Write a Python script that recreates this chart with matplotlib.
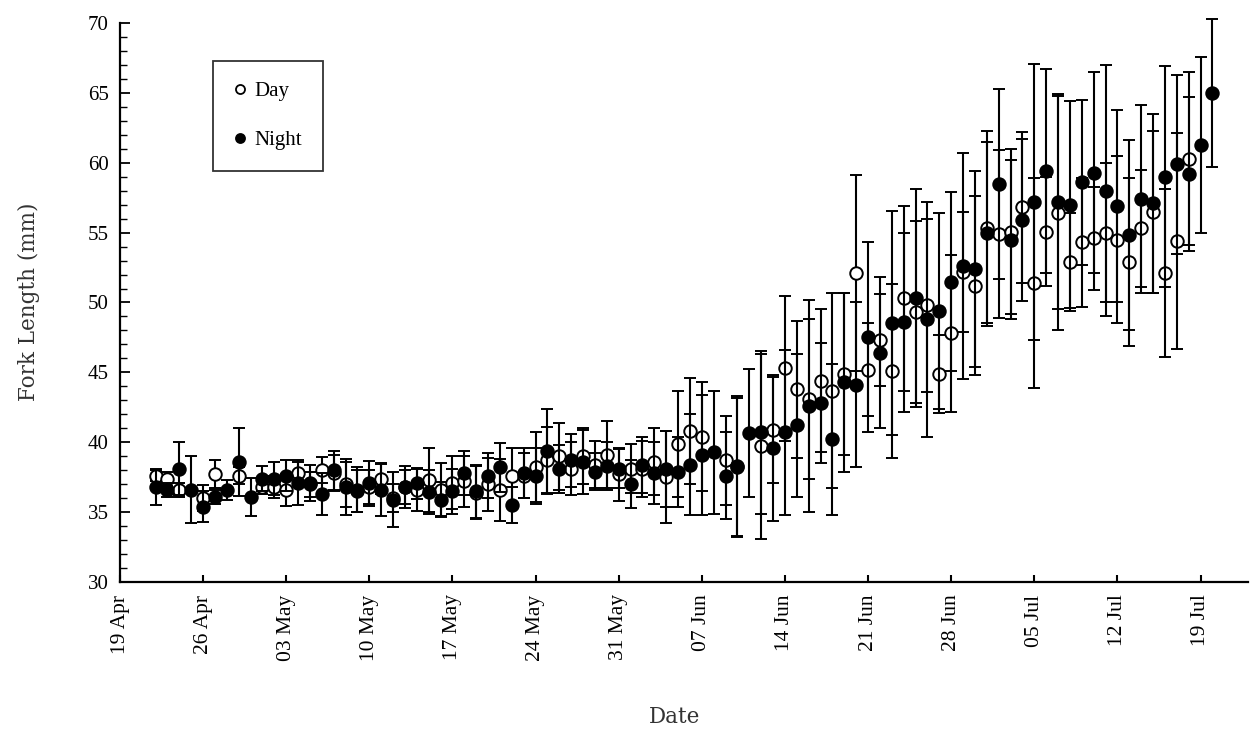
import numpy as np
import pandas as pd
import matplotlib
matplotlib.use('Agg')
import matplotlib.pyplot as plt
import matplotlib.dates as mdates
from matplotlib.lines import Line2D

nan = np.nan

# datas de amostragem (uma por dia, 22 Apr a 20 Jul)
datas = pd.date_range('2004-04-22', '2004-07-20', freq='D')

# media e desvio padrao - Dia
dia_media = [37.6, 37.4, 36.6, nan, 36.0, 37.7, nan, 37.6, nan, 36.8,
             36.8, 36.6, 37.8, 37.0, 38.0, 37.8, 37.0, 36.5, 36.8, 37.4,
             36.0, 36.8, 36.6, 37.3, 36.6, 37.1, 37.2, 36.4, 37.0, 36.6,
             37.6, 37.6, 38.2, 38.7, 39.0, 38.1, 39.0, 38.4, 39.1, 37.7,
             38.1, 38.1, 38.6, 37.5, 39.9, 40.8, 40.4, nan, 38.7, 38.2,
             nan, 39.7, 40.9, 45.3, 43.8, 43.1, 44.4, 43.7, 44.9, 52.1,
             45.2, 47.3, 45.1, 50.3, 49.3, 49.8, 44.9, 47.8, 52.2, 51.2,
             55.3, 54.9, 55.05, 56.8, 51.4, 55.05, 56.4, 52.9, 54.3, 54.6,
             55.0, 54.5, 52.9, 55.3, 56.5, 52.1, 54.4, 60.3, nan, nan]
dia_dp = [0.4, 0.5, 0.5, nan, 0.95, 1.0, nan, 0.6, nan, 0.5,
          0.8, 1.15, 0.8, 0.9, 0.95, 1.3, 1.6, 1.5, 1.2, 1.1,
          1.0, 1.2, 1.5, 2.3, 1.9, 1.9, 1.8, 1.9, 1.9, 2.2,
          2.0, 1.6, 2.5, 2.4, 2.4, 1.9, 2.0, 1.7, 2.4, 1.9,
          1.75, 2.0, 2.4, 3.3, 3.8, 3.8, 3.9, nan, 3.2, 5.0,
          nan, 6.6, 3.8, 5.2, 4.9, 5.7, 5.1, 7.0, 5.8, 7.0,
          3.3, 3.3, 6.2, 6.6, 6.5, 6.2, 2.8, 5.6, 4.3, 6.4,
          7.0, 6.0, 5.9, 5.4, 7.5, 3.9, 8.4, 3.5, 4.6, 3.7,
          5.0, 6.0, 6.0, 4.2, 5.8, 6.0, 7.7, 6.2, nan, nan]

# media e desvio padrao - Noite
noite_media = [36.8, 36.6, 38.1, 36.6, 35.4, 36.1, 36.6, 38.6, 36.1, 37.4,
               37.4, 37.6, 37.1, 37.1, 36.3, 38.0, 36.8, 36.6, 37.05, 36.6,
               35.9, 36.8, 37.05, 36.45, 35.9, 36.5, 37.8, 36.5, 37.6, 38.2,
               35.5, 37.8, 37.6, 39.4, 38.1, 38.7, 38.6, 37.9, 38.3, 38.1,
               37.0, 38.35, 37.8, 38.1, 37.9, 38.4, 39.1, 39.3, 37.6, 38.3,
               40.65, 40.7, 39.6, 40.7, 41.2, 42.6, 42.8, 40.2, 44.3, 44.1,
               47.5, 46.4, 48.55, 48.6, 50.3, 48.8, 49.4, 51.5, 52.6, 52.4,
               55.0, 58.5, 54.5, 55.9, 57.2, 59.4, 57.2, 57.0, 58.6, 59.3,
               58.0, 56.9, 54.8, 57.4, 57.1, 59.0, 59.9, 59.2, 61.3, 65.0]
noite_dp = [1.3, 0.5, 1.9, 2.4, 1.1, 0.5, 0.7, 2.45, 1.35, 0.9,
            1.2, 1.1, 1.6, 1.3, 1.5, 1.4, 2.0, 1.6, 1.6, 1.85,
            1.95, 1.5, 1.1, 1.6, 1.25, 1.6, 1.6, 1.9, 1.6, 1.75,
            1.3, 1.8, 2.0, 3.0, 1.7, 1.9, 2.3, 1.3, 1.7, 1.4,
            1.7, 2.0, 2.2, 2.7, 2.5, 3.6, 4.3, 4.4, 3.1, 5.0,
            4.6, 5.8, 5.2, 5.9, 5.1, 7.6, 4.3, 5.4, 6.4, 5.9,
            6.8, 5.4, 8.0, 6.4, 7.8, 8.4, 7.0, 6.4, 8.1, 7.0,
            6.5, 6.8, 5.7, 5.8, 9.9, 7.3, 7.7, 7.4, 5.9, 7.2,
            9.0, 6.9, 6.8, 6.7, 6.4, 7.9, 6.4, 5.5, 6.3, 5.3]

ticks = pd.date_range('2004-04-19', periods=14, freq='7D')

plt.rcParams['font.family'] = 'Liberation Serif'

fig = plt.figure(figsize=(12.57, 7.41), dpi=100)
ax = fig.add_axes([120 / 1257, 1 - 582 / 741, 1128 / 1257, 559 / 741])

# Dia (circulo aberto)
eb1 = ax.errorbar(datas, dia_media, yerr=dia_dp, fmt='o', color='black',
                  mfc='white', mec='black', mew=1.4, ms=9, elinewidth=1.5,
                  capsize=4.5, capthick=1.5, zorder=2)
# Noite (circulo cheio)
eb2 = ax.errorbar(datas, noite_media, yerr=noite_dp, fmt='o', color='black',
                  mfc='black', mec='black', mew=1.4, ms=9, elinewidth=1.5,
                  capsize=4.5, capthick=1.5, zorder=3)
for eb in (eb1, eb2):
    for art in eb.get_children():
        art.set_clip_on(False)

ax.set_xlim(pd.Timestamp('2004-04-19'), pd.Timestamp('2004-07-23'))
ax.set_ylim(30, 70)
ax.set_xticks(ticks)
ax.xaxis.set_major_formatter(mdates.DateFormatter('%d %b'))
ax.set_yticks(np.arange(30, 71, 5))
ax.set_yticks(np.arange(30, 71, 1), minor=True)
ax.tick_params(axis='x', which='major', direction='in', length=5, width=1.5,
               labelsize=15.5, labelrotation=90, pad=9)
ax.tick_params(axis='y', which='major', direction='in', length=7, width=1.3,
               labelsize=15, pad=8)
ax.tick_params(axis='y', which='minor', direction='in', length=5, width=1.0)

for s in ['top', 'right']:
    ax.spines[s].set_visible(False)
for s in ['left', 'bottom']:
    ax.spines[s].set_linewidth(1.6)

fig.text(675 / 1257, 1 - 717 / 741, 'Date', fontsize=15.5, family='DejaVu Serif',
         color='#333333', ha='center', va='center')
fig.text(29 / 1257, 1 - 302 / 741, 'Fork Length (mm)', fontsize=15.5,
         family='DejaVu Serif', color='#333333', ha='center', va='center',
         rotation=90)

handles = [Line2D([], [], ls='none', marker='o', mfc='white', mec='black', mew=1.3, ms=6.5),
           Line2D([], [], ls='none', marker='o', mfc='black', mec='black', mew=1.3, ms=6.5)]
leg = fig.legend(handles, ['Day', 'Night'], loc='upper left',
                 bbox_to_anchor=(213 / 1257, 1 - 61 / 741), fontsize=15,
                 frameon=True, fancybox=False, edgecolor='black',
                 handlelength=0.6, handletextpad=0.4, labelspacing=1.4,
                 borderpad=1.0, borderaxespad=0)
leg.get_frame().set_linewidth(1.3)

plt.savefig('out.png', dpi=100)
